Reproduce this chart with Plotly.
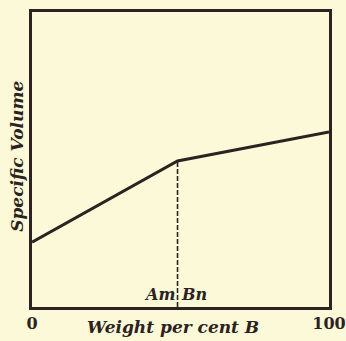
import plotly.graph_objects as go

# Composition (weight per cent B) and specific volume of the mixture
weight_pct_b = [0, 49, 100]
specific_volume = [22, 49.5, 59.3]

# Composition of the compound AmBn
compound_x = 49
compound_label_left = "Am"
compound_label_right = "Bn"

x_tick_vals = [0, 100]
x_tick_text = ["0", "100"]

ink = "#2b2221"
paper = "#fcf9d8"
serif = "Century Schoolbook, DejaVu Serif, serif"

fig = go.Figure()

# Vertical dashed marker at the compound composition
fig.add_trace(go.Scatter(
    x=[compound_x, compound_x],
    y=[0, specific_volume[1]],
    mode="lines",
    line=dict(color=ink, width=1.6, dash="5px,2px"),
    hoverinfo="skip",
))

# Specific volume curve
fig.add_trace(go.Scatter(
    x=weight_pct_b,
    y=specific_volume,
    mode="lines",
    line=dict(color=ink, width=3),
    hoverinfo="skip",
))

fig.add_annotation(
    x=compound_x, y=0, xref="x", yref="y",
    text="<b><i>" + compound_label_left + "</i></b>",
    showarrow=False, xanchor="right", yanchor="bottom",
    xshift=-1, yshift=1,
    font=dict(family=serif, size=16, color=ink),
)
fig.add_annotation(
    x=compound_x, y=0, xref="x", yref="y",
    text="<b><i>" + compound_label_right + "</i></b>",
    showarrow=False, xanchor="left", yanchor="bottom",
    xshift=1, yshift=1,
    font=dict(family=serif, size=16, color=ink),
)

# Axis titles
fig.add_annotation(
    x=0.475, y=-0.068, xref="paper", yref="paper",
    text="<b><i>Weight per cent B</i></b>",
    showarrow=False, xanchor="center", yanchor="middle",
    font=dict(family=serif, size=17, color=ink),
)
fig.add_annotation(
    x=-0.053, y=0.51, xref="paper", yref="paper",
    text="<b><i>Specific Volume</i></b>",
    showarrow=False, textangle=-90, xanchor="center", yanchor="middle",
    font=dict(family=serif, size=17, color=ink),
)

fig.update_layout(
    width=346, height=341,
    margin=dict(l=32, r=17, t=12, b=34, autoexpand=False),
    paper_bgcolor=paper,
    plot_bgcolor=paper,
    showlegend=False,
    xaxis=dict(
        range=[0, 100],
        automargin=False,
        tickvals=x_tick_vals,
        ticktext=["<b>" + t + "</b>" for t in x_tick_text],
        ticks="",
        ticklen=0,
        showgrid=False,
        zeroline=False,
        showline=True,
        mirror=True,
        linecolor=ink,
        linewidth=2.5,
        tickfont=dict(family=serif, size=16, color=ink),
    ),
    yaxis=dict(
        range=[0, 100],
        automargin=False,
        showticklabels=False,
        ticks="",
        showgrid=False,
        zeroline=False,
        showline=True,
        mirror=True,
        linecolor=ink,
        linewidth=2.5,
    ),
)

fig.write_html("out.html")
